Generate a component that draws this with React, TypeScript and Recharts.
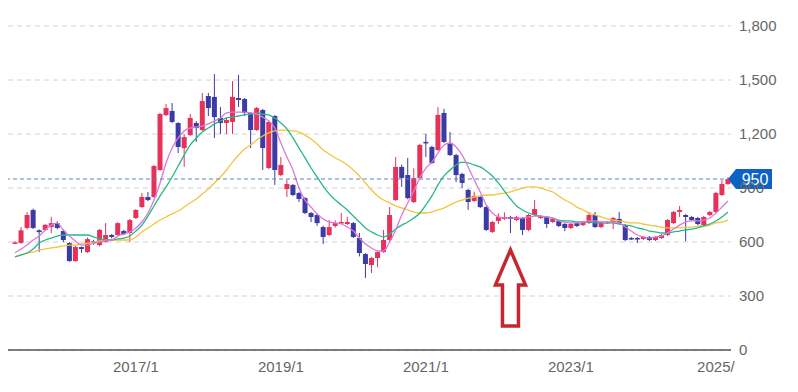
import React from "react";
import {
  ComposedChart,
  Bar,
  Line,
  XAxis,
  YAxis,
  CartesianGrid,
  ReferenceLine,
  ReferenceDot,
} from "recharts";

// monthly candles, 2015/5 .. 2025/3
const startYear = 2015;
const startMonth = 5;
const count = 119;
const months = Array.from({ length: count }, (_, i) => {
  const m = startMonth - 1 + i;
  return `${startYear + Math.floor(m / 12)}/${(m % 12) + 1}`;
});

const opens = [
  592, 595, 678, 778, 665, 667, 683, 705, 661, 594,
  494, 572, 544, 605, 583, 600, 639, 639, 661, 650,
  733, 794, 850, 850, 1000, 1305, 1328, 1261, 1122, 1194,
  1261, 1222, 1411, 1406, 1289, 1261, 1267, 1400, 1394, 1317,
  1222, 1333, 1011, 1300, 972, 894, 917, 872, 844, 761,
  750, 683, 639, 689, 705, 700, 705, 622, 533, 472,
  511, 544, 611, 833, 1017, 972, 822, 955, 1156, 1128,
  1111, 1317, 1150, 1083, 978, 889, 828, 850, 794, 656,
  717, 728, 739, 722, 733, 667, 750, 733, 739, 711,
  717, 700, 678, 705, 694, 705, 750, 683, 705, 705,
  728, 694, 622, 622, 617, 628, 611, 622, 639, 705,
  767, 750, 739, 733, 694, 750, 767, 861, 922,
];
const closes = [
  598, 665, 750, 678, 655, 695, 705, 678, 611, 494,
  572, 561, 616, 594, 667, 639, 628, 705, 644, 722,
  778, 850, 833, 1022, 1311, 1344, 1267, 1128, 1183, 1289,
  1233, 1383, 1344, 1294, 1261, 1278, 1406, 1389, 1317, 1222,
  1344, 1122, 1267, 1000, 1028, 922, 861, 839, 761, 739,
  705, 628, 683, 705, 711, 711, 628, 539, 478, 511,
  544, 611, 750, 1017, 956, 844, 955, 1139, 1150, 1039,
  1306, 1156, 1083, 972, 928, 822, 856, 794, 667, 711,
  739, 739, 728, 739, 667, 750, 783, 744, 700, 728,
  689, 678, 700, 689, 711, 750, 683, 711, 711, 733,
  705, 611, 617, 617, 628, 611, 628, 639, 722, 767,
  778, 739, 722, 700, 739, 767, 872, 922, 950,
];
const highs = [
  605, 683, 766, 785, 670, 700, 740, 715, 670, 600,
  578, 575, 625, 612, 672, 705, 645, 710, 668, 728,
  783, 872, 878, 1028, 1317, 1367, 1372, 1265, 1200, 1311,
  1272, 1428, 1428, 1533, 1350, 1290, 1494, 1528, 1400, 1322,
  1350, 1340, 1272, 1305, 1072, 945, 922, 878, 850, 767,
  756, 690, 722, 720, 761, 740, 711, 650, 539, 517,
  550, 667, 794, 1072, 1030, 1067, 1010, 1145, 1200, 1135,
  1350, 1340, 1211, 1090, 985, 895, 880, 856, 800, 717,
  760, 765, 745, 745, 739, 756, 833, 750, 745, 733,
  722, 705, 705, 711, 717, 767, 767, 717, 717, 739,
  767, 700, 628, 628, 633, 633, 633, 644, 728, 772,
  800, 755, 745, 739, 745, 772, 878, 945, 960,
];
const lows = [
  588, 590, 670, 672, 545, 660, 650, 670, 600, 490,
  490, 540, 540, 585, 575, 595, 620, 635, 638, 600,
  728, 790, 828, 845, 995, 1300, 1260, 1094, 1017, 1189,
  1156, 1217, 1300, 1178, 1200, 1200, 1200, 1350, 1300, 1122,
  1217, 1000, 1005, 917, 965, 850, 855, 822, 755, 711,
  690, 589, 633, 680, 700, 695, 622, 520, 400, 428,
  460, 540, 605, 828, 906, 838, 817, 950, 1072, 1033,
  1105, 1150, 1077, 933, 900, 778, 822, 789, 661, 650,
  700, 722, 650, 715, 639, 660, 745, 728, 678, 705,
  683, 660, 672, 683, 689, 700, 678, 678, 700, 672,
  700, 605, 611, 594, 611, 605, 605, 617, 633, 700,
  739, 605, 717, 694, 689, 745, 761, 856, 917,
];

// moving averages as drawn (short / medium / long)
const maShort = [
  540, 561, 583, 611, 633, 667, 694, 705, 667, 633,
  606, 583, 583, 594, 600, 606, 611, 633, 644, 656,
  678, 711, 761, 833, 928, 1039, 1122, 1178, 1217, 1233,
  1239, 1244, 1256, 1272, 1289, 1317, 1322, 1322, 1322, 1317,
  1311, 1294, 1272, 1233, 1150, 1072, 1000, 900, 833, 794,
  756, 728, 711, 706, 700, 683, 661, 622, 589, 567,
  550, 550, 600, 667, 750, 817, 883, 956, 1011, 1044,
  1094, 1139, 1150, 1128, 1083, 1017, 944, 878, 806, 761,
  739, 733, 733, 733, 733, 739, 744, 744, 739, 733,
  717, 711, 706, 706, 711, 717, 717, 711, 711, 711,
  706, 683, 661, 639, 628, 622, 628, 633, 650, 672,
  694, 711, 717, 717, 722, 733, 761, 794, 828,
];
const maMid = [
  517, 528, 539, 561, 594, 611, 622, 633, 639, 639,
  639, 639, 639, 628, 617, 611, 611, 617, 622, 633,
  661, 694, 744, 800, 856, 906, 961, 1022, 1083, 1139,
  1178, 1211, 1233, 1256, 1272, 1289, 1294, 1300, 1306, 1311,
  1317, 1311, 1306, 1289, 1261, 1228, 1178, 1122, 1067, 1011,
  961, 911, 867, 833, 806, 778, 744, 711, 678, 656,
  639, 628, 644, 672, 694, 711, 733, 761, 806, 856,
  917, 967, 1000, 1028, 1044, 1039, 1028, 1017, 994, 967,
  928, 883, 839, 800, 778, 761, 750, 744, 739, 733,
  722, 717, 717, 711, 711, 711, 706, 706, 706, 706,
  700, 694, 689, 678, 672, 661, 656, 650, 650, 656,
  661, 667, 672, 678, 689, 700, 717, 739, 767,
];
const maLong = [
  517, 528, 539, 544, 556, 561, 567, 572, 578, 583,
  583, 589, 594, 600, 606, 611, 611, 611, 611, 611,
  628, 656, 678, 700, 722, 739, 756, 772, 794, 817,
  839, 867, 894, 928, 961, 1000, 1044, 1083, 1117, 1139,
  1167, 1189, 1206, 1217, 1222, 1222, 1217, 1211, 1194, 1172,
  1144, 1111, 1089, 1067, 1050, 1028, 1000, 967, 928, 889,
  856, 833, 817, 800, 789, 778, 767, 761, 761, 767,
  778, 789, 806, 822, 833, 844, 850, 856, 861, 861,
  867, 872, 878, 889, 900, 906, 906, 900, 889, 878,
  856, 833, 817, 794, 778, 761, 750, 739, 728, 722,
  717, 711, 706, 706, 700, 694, 689, 683, 678, 678,
  678, 683, 683, 689, 689, 694, 706, 711, 722,
];

const yTicks = [0, 300, 600, 900, 1200, 1500, 1800];
const xTicks = ["2017/1", "2019/1", "2021/1", "2023/1", "2025/1"];
const xTickLabels: Record<string, string> = {
  "2017/1": "2017/1",
  "2019/1": "2019/1",
  "2021/1": "2021/1",
  "2023/1": "2023/1",
  "2025/1": "2025/",
};
const lastPrice = 950;
const arrowMonth = "2022/3";
const arrowTip = 556;

const data = months.map((month, i) => ({
  month,
  open: opens[i],
  close: closes[i],
  high: highs[i],
  low: lows[i],
  maShort: maShort[i],
  maMid: maMid[i],
  maLong: maLong[i],
}));

const RED = "#e5325b";
const BLUE = "#3b3ba6";
const FONT = "'Liberation Sans', Arial, sans-serif";

function Candle(props: any) {
  const { x, y, width, height, payload } = props;
  const { open, close, high, low } = payload;
  const top = Math.min(y, y + height);
  const span = Math.abs(height);
  const py = (v: number) =>
    high === low ? top : top + ((high - v) / (high - low)) * span;
  const color = close >= open ? RED : BLUE;
  const cx = x + width / 2;
  const bTop = py(Math.max(open, close));
  const bBot = py(Math.min(open, close));
  return (
    <g>
      <line x1={cx} x2={cx} y1={top} y2={top + span} stroke={color} strokeWidth={1} />
      <rect
        x={cx - 2.5}
        y={bTop}
        width={5}
        height={Math.max(bBot - bTop, 1.5)}
        fill={color}
      />
    </g>
  );
}

function XTick(props: any) {
  const { x, y, payload } = props;
  return (
    <text x={x} y={y} dy="0.71em" textAnchor="middle" fill="#666" fontSize={15} fontFamily={FONT}>
      {xTickLabels[payload.value] ?? payload.value}
    </text>
  );
}

function PriceTag(props: any) {
  const { viewBox } = props;
  const tip = viewBox.x + viewBox.width - 3;
  const cy = viewBox.y;
  const pts = [
    [tip, cy],
    [tip + 8, cy - 10],
    [tip + 44, cy - 10],
    [tip + 44, cy + 10],
    [tip + 8, cy + 10],
  ]
    .map((p) => p.join(","))
    .join(" ");
  return (
    <g>
      <polygon points={pts} fill="#0c63c5" />
      <text
        x={tip + 27}
        y={cy}
        dy="0.36em"
        textAnchor="middle"
        fill="#fff"
        fontSize={16}
        fontFamily={FONT}
      >
        {lastPrice}
      </text>
    </g>
  );
}

function UpArrow(props: any) {
  const { cx, cy } = props;
  const head = 15;
  const shaft = 8;
  const pts = [
    [cx, cy],
    [cx + head, cy + 35],
    [cx + shaft, cy + 35],
    [cx + shaft, cy + 76],
    [cx - shaft, cy + 76],
    [cx - shaft, cy + 35],
    [cx - head, cy + 35],
  ]
    .map((p) => p.join(","))
    .join(" ");
  return <polygon points={pts} fill="#fff" stroke="#c62630" strokeWidth={3.5} strokeLinejoin="miter" />;
}

export default function App() {
  return (
    <div style={{ position: "absolute", left: 0, top: 0, background: "#fff" }}>
      <ComposedChart
        width={798}
        height={392}
        data={data}
        margin={{ top: 26, right: 0, bottom: 0, left: 8 }}
        barCategoryGap={0}
      >
        <CartesianGrid vertical={false} stroke="#d2d2d2" strokeDasharray="5 4" />
        <XAxis
          dataKey="month"
          ticks={xTicks}
          interval={0}
          height={42}
          padding={{ left: 4, right: 0 }}
          tickLine={false}
          tickMargin={5}
          axisLine={{ stroke: "#555", strokeWidth: 1.5 }}
          tick={<XTick />}
        />
        <YAxis
          orientation="right"
          width={67}
          domain={[0, 1800]}
          ticks={yTicks}
          axisLine={false}
          tickLine={false}
          tickFormatter={(v) => Number(v).toLocaleString("en-US")}
          tick={{ fill: "#666", fontSize: 15, fontFamily: FONT }}
        />
        <Bar
          dataKey={(d: any) => [d.low, d.high]}
          shape={<Candle />}
          isAnimationActive={false}
        />
        <Line type="monotone" dataKey="maLong" stroke="#f2c53d" strokeWidth={1.3} dot={false} isAnimationActive={false} />
        <Line type="monotone" dataKey="maMid" stroke="#27b886" strokeWidth={1.3} dot={false} isAnimationActive={false} />
        <Line type="monotone" dataKey="maShort" stroke="#dc78dc" strokeWidth={1.3} dot={false} isAnimationActive={false} />
        <ReferenceLine
          y={lastPrice}
          stroke="#5a86bb"
          strokeDasharray="4 3"
          label={<PriceTag />}
        />
        <ReferenceDot
          x={arrowMonth}
          y={arrowTip}
          shape={<UpArrow />}
          ifOverflow="visible"
        />
      </ComposedChart>
    </div>
  );
}
